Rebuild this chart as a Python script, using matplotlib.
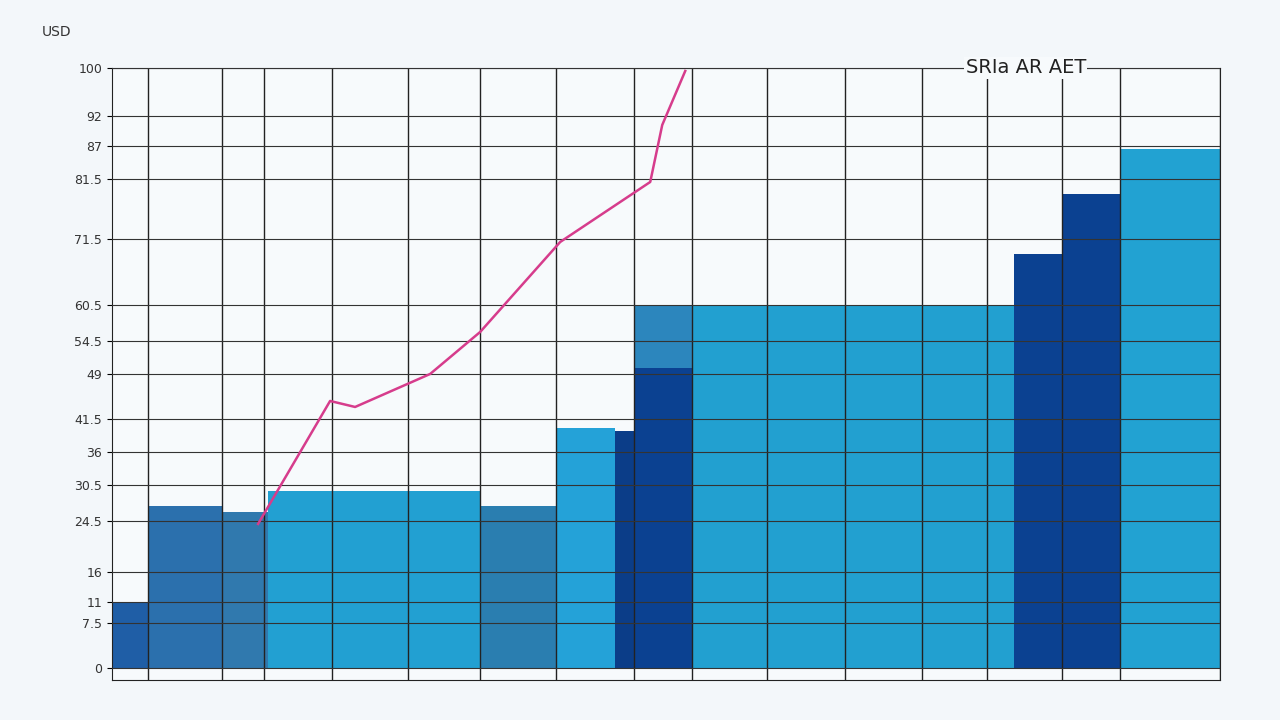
import matplotlib
matplotlib.use("Agg")
import matplotlib.pyplot as plt

# bar edges (x units) and heights
bar_left   = [0, 36, 110, 156, 368, 444, 503, 522, 580, 902, 950, 1008]
bar_right  = [36, 110, 156, 368, 444, 503, 522, 580, 902, 950, 1008, 1108]
bar_height = [11, 27, 26, 29.5, 27, 40, 39.5, 50, 60.5, 69, 79, 86.5]
bar_colors = ["#1f5ea6", "#2b70ad", "#3079ae", "#22a0d2", "#2a7eb0", "#24a2d8",
              "#0b3d88", "#0b4191", "#22a0d0", "#0b4191", "#0b4191", "#22a2d2"]
back_left, back_right, back_height = [522], [580], [60.5]

line_x = [146, 218, 243, 318, 368, 448, 538, 550, 573]
line_y = [24, 44.5, 43.5, 49, 56, 71, 81, 90.5, 99.5]

ytick_vals = [0, 7.5, 11, 16, 24.5, 30.5, 36, 41.5, 49, 54.5, 60.5, 71.5, 81.5, 87, 92, 100]
vgrid = [36, 110, 152, 220, 296, 368, 444, 522, 580, 655, 733, 810, 875, 950, 1008, 1108]

fig = plt.figure(figsize=(12.8, 7.2), dpi=100)
fig.patch.set_facecolor("#f3f7fa")
ax = fig.add_axes([0.0875, 0.0556, 0.866, 0.8500])
ax.set_facecolor("#f7fafc")
ax.set_xlim(0, 1108)
ax.set_ylim(-2, 100)
for l, r, h in zip(back_left, back_right, back_height):
    ax.bar(l, h, width=r - l, align="edge", color="#2c86bd", zorder=2)
for l, r, h, c in zip(bar_left, bar_right, bar_height, bar_colors):
    ax.bar(l, h, width=r - l, align="edge", color=c, zorder=2)
for v in vgrid:
    ax.axvline(v, color="#222222", lw=1.0, zorder=3)
for v in ytick_vals:
    ax.axhline(v, color="#333333", lw=0.8, zorder=3)
ax.plot(line_x, line_y, color="#d63c8c", lw=1.8, zorder=4)
ax.set_yticks(ytick_vals)
ax.set_yticklabels([f"{v:g}" for v in ytick_vals], fontsize=9, color="#333333")
ax.set_xticks([])
for s in ax.spines.values():
    s.set_color("#222222")
ax.text(0.77, 1.0, "SRIa AR AET", transform=ax.transAxes, fontsize=14,
        va="center", ha="left", color="#222222",
        bbox=dict(facecolor="#f7fafc", edgecolor="none", pad=1), zorder=5)
fig.text(0.033, 0.95, "USD", fontsize=10, color="#333333")
fig.savefig("out.png", dpi=100, facecolor=fig.get_facecolor())
